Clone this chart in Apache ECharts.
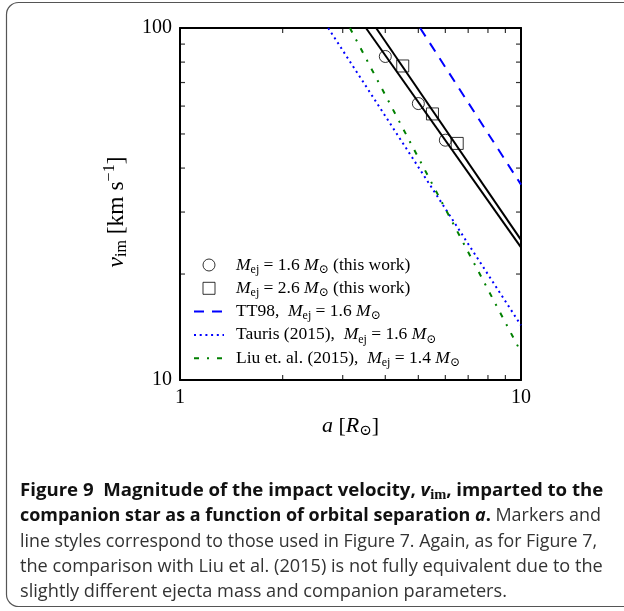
<!DOCTYPE html>
<html>
<head>
<meta charset="utf-8">
<script src="https://cdn.jsdelivr.net/npm/echarts@6/dist/echarts.min.js"></script>
<style>
  html, body { margin: 0; padding: 0; background: #fff; }
  #chart { width: 624px; height: 611px; }
</style>
</head>
<body>
<div id="chart"></div>
<script>
// minor tick values on the log axes
const minorX = [2, 3, 4, 5, 6, 7, 8, 9];
const minorY = [20, 30, 40, 50, 60, 70, 80, 90];
const xMin = 1, xMax = 10, yMin = 10, yMax = 100;

// markers, a [R_sun] and v_im [km/s]
const circlesA = [4.0, 5.0, 6.0];
const circlesV = [83, 61, 48];
const squaresA = [4.5, 5.5, 6.5];
const squaresV = [78, 57, 47];

// lines, read where they enter the frame
const line16A = [3.51, 10];
const line16V = [100, 23.8];
const line26A = [3.76, 10];
const line26V = [100, 25.0];
const tt98A = [5.06, 10];
const tt98V = [100, 35.9];
const taurisA = [2.72, 10];
const taurisV = [100, 14.3];
const liuA = [3.15, 10];
const liuV = [100, 12.0];

const pairs = (xs, ys) => xs.map((x, i) => [x, ys[i]]);

const SERIF = '"Liberation Serif", "DejaVu Serif", serif';
const SANS = '"Open Sans", "Noto Sans", sans-serif';

const legendRich = {
  n: { fontFamily: SERIF, fontSize: 17.5, color: '#000', lineHeight: 20 },
  i: { fontFamily: SERIF, fontSize: 17.5, fontStyle: 'italic', color: '#000', lineHeight: 20 },
  sub: { fontFamily: SERIF, fontSize: 12, color: '#000', lineHeight: 20, padding: [9, 0, 0, 0] },
};
const legendText = {
  c16: '{i|M}{sub|ej}{n| = 1.6 }{i|M}{sub|⊙}{n| (this work)}',
  s26: '{i|M}{sub|ej}{n| = 2.6 }{i|M}{sub|⊙}{n| (this work)}',
  tt98: '{n|TT98,  }{i|M}{sub|ej}{n| = 1.6 }{i|M}{sub|⊙}',
  tauris: '{n|Tauris (2015),  }{i|M}{sub|ej}{n| = 1.6 }{i|M}{sub|⊙}',
  liu: '{n|Liu et. al. (2015),  }{i|M}{sub|ej}{n| = 1.4 }{i|M}{sub|⊙}',
};
const noMarker = { opacity: 0, color: 'rgba(0,0,0,0)', borderWidth: 0 };

const nameRich = {
  n: { fontFamily: SERIF, fontSize: 22, color: '#000', lineHeight: 26 },
  i: { fontFamily: SERIF, fontSize: 22, fontStyle: 'italic', color: '#000', lineHeight: 26 },
  sub: { fontFamily: SERIF, fontSize: 15, color: '#000', lineHeight: 26, padding: [11, 0, 0, 0] },
  sup: { fontFamily: SERIF, fontSize: 15, color: '#000', lineHeight: 26, padding: [0, 0, 13, 0] },
};
const yNameRich = {
  n: Object.assign({}, nameRich.n, { fontSize: 23.5 }),
  i: Object.assign({}, nameRich.i, { fontSize: 23.5 }),
  sub: Object.assign({}, nameRich.sub, { fontSize: 16 }),
  sup: Object.assign({}, nameRich.sup, { fontSize: 16 }),
};

// caption
const captionLines = [
  '{b|Figure 9  Magnitude of the impact velocity, }{bi|v}{bs|im}{b|, imparted to the}',
  '{b|companion star as a function of orbital separation }{bi|a}{b|.}{r| Markers and}',
  '{r|line styles correspond to those used in Figure 7. Again, as for Figure 7,}',
  '{r|the comparison with Liu et al. (2015) is not fully equivalent due to the}',
  '{r|slightly different ejecta mass and companion parameters.}',
];
const lineStretch = [1.047, 1.009, 1, 1.021, 1.023];
const ctx = document.createElement('canvas').getContext('2d');
ctx.font = '18px ' + SANS;
const capScale = 577 / ctx.measureText('line styles correspond to those used in Figure 7. Again, as for Figure 7,').width;
const capRich = {
  b: { fontFamily: SANS, fontSize: 18, fontWeight: 'bold', fill: '#111', lineHeight: 24 },
  bi: { fontFamily: SANS, fontSize: 18, fontWeight: 'bold', fontStyle: 'italic', fill: '#111', lineHeight: 24 },
  bs: { fontFamily: SERIF, fontSize: 14, fontWeight: 'bold', fill: '#111', lineHeight: 24, padding: [8, 0, 0, 0] },
  r: { fontFamily: SANS, fontSize: 18, fill: '#333', lineHeight: 24 },
};

const frameLine = { show: true, lineStyle: { color: '#000', width: 2 } };
const labelStyle = { show: true, fontFamily: SERIF, fontSize: 20, color: '#000', margin: 8 };

// inward minor ticks, placed through the log axes as tiny marks on the frame
const tickMarks = (data, size, offset) => ({
  type: 'scatter', silent: true, symbol: 'rect', symbolSize: size, symbolOffset: offset,
  data: data, itemStyle: { color: '#000' }, z: 5, clip: false,
});
const TL = 5;

const chart = echarts.init(document.getElementById('chart'), null, { renderer: 'canvas' });

const option = {
  backgroundColor: '#fff',
  animation: false,
  grid: { left: 180, right: 103, top: 28, bottom: 231 },
  legend: {
    orient: 'vertical',
    left: 188,
    top: 249.5,
    itemWidth: 30,
    itemHeight: 12,
    itemGap: 2.3,
    data: [
      { name: 'c16' },
      { name: 's26', icon: 'path://M0,0L10,0L10,10L0,10Z' },
      { name: 'tt98', itemStyle: noMarker },
      { name: 'tauris', itemStyle: noMarker },
      { name: 'liu', itemStyle: noMarker },
    ],
    formatter: (name) => legendText[name],
    textStyle: { rich: legendRich, padding: [0, 0, 0, 7] },
    itemStyle: { borderWidth: 1 },
    lineStyle: { width: 2 },
  },
  xAxis: [
    {
      type: 'log', logBase: 10, position: 'bottom', min: xMin, max: xMax,
      splitLine: { show: false },
      axisLine: frameLine,
      axisTick: { show: false },
      axisLabel: labelStyle,
      name: '{i|a}{n| [}{i|R}{sub|⊙}{n|]}',
      nameLocation: 'middle',
      nameGap: 32,
      nameTextStyle: { rich: nameRich },
    },
    {
      type: 'log', logBase: 10, position: 'top', min: xMin, max: xMax,
      splitLine: { show: false }, axisLine: frameLine,
      axisTick: { show: false }, axisLabel: { show: false },
    },
  ],
  yAxis: [
    {
      type: 'log', logBase: 10, position: 'left', min: yMin, max: yMax,
      splitLine: { show: false },
      axisLine: frameLine,
      axisTick: { show: false },
      axisLabel: labelStyle,
      name: '{i|v}{sub|im}{n| [km s}{sup|−1}{n|]}',
      nameLocation: 'middle',
      nameRotate: 90,
      nameGap: 43,
      nameTextStyle: { rich: yNameRich, padding: [0, 16, 0, 0] },
    },
    {
      type: 'log', logBase: 10, position: 'right', min: yMin, max: yMax,
      splitLine: { show: false }, axisLine: frameLine,
      axisTick: { show: false }, axisLabel: { show: false },
    },
  ],
  series: [
    {
      name: 'l16', type: 'line', data: pairs(line16A, line16V), symbol: 'none',
      lineStyle: { color: '#000', width: 2 }, z: 3,
    },
    {
      name: 'l26', type: 'line', data: pairs(line26A, line26V), symbol: 'none',
      lineStyle: { color: '#000', width: 2 }, z: 3,
    },
    {
      name: 'tt98', type: 'line', data: pairs(tt98A, tt98V), symbol: 'none',
      itemStyle: { color: '#0000ff' },
      lineStyle: { color: '#0000ff', width: 2, type: [10, 8] },
    },
    {
      name: 'tauris', type: 'line', data: pairs(taurisA, taurisV), symbol: 'none',
      itemStyle: { color: '#0000ff' },
      lineStyle: { color: '#0000ff', width: 2, type: [2, 3.7] },
    },
    {
      name: 'liu', type: 'line', data: pairs(liuA, liuV), symbol: 'none',
      itemStyle: { color: '#008000' },
      lineStyle: { color: '#008000', width: 2, type: [5, 8, 2, 8] },
    },
    {
      name: 'c16', type: 'scatter', data: pairs(circlesA, circlesV), symbol: 'circle', symbolSize: 12,
      itemStyle: { color: 'rgba(0,0,0,0)', borderColor: '#000', borderWidth: 1 }, z: 4,
    },
    {
      name: 's26', type: 'scatter', data: pairs(squaresA, squaresV), symbol: 'rect', symbolSize: 12,
      itemStyle: { color: 'rgba(0,0,0,0)', borderColor: '#000', borderWidth: 1 }, z: 4,
    },
    tickMarks(minorX.map((x) => [x, yMin]), [1.2, TL], [0, -TL / 2]),
    tickMarks(minorX.map((x) => [x, yMax]), [1.2, TL], [0, TL / 2]),
    tickMarks(minorY.map((y) => [xMin, y]), [TL, 1.2], [TL / 2, 0]),
    tickMarks(minorY.map((y) => [xMax, y]), [TL, 1.2], [-TL / 2, 0]),
  ],
  graphic: [
    {
      type: 'rect', silent: true, z: -1,
      shape: { x: 6.5, y: 2.5, width: 700, height: 604, r: 12 },
      style: { fill: 'none', stroke: '#555', lineWidth: 1.2 },
    },
  ].concat(captionLines.map((t, i) => ({
    type: 'text', silent: true,
    x: 20, y: 491 + i * 25.3, scaleX: capScale * lineStretch[i],
    style: { text: t, rich: capRich, verticalAlign: 'middle', align: 'left', fill: '#222' },
  }))),
};

chart.setOption(option);
</script>
</body>
</html>
